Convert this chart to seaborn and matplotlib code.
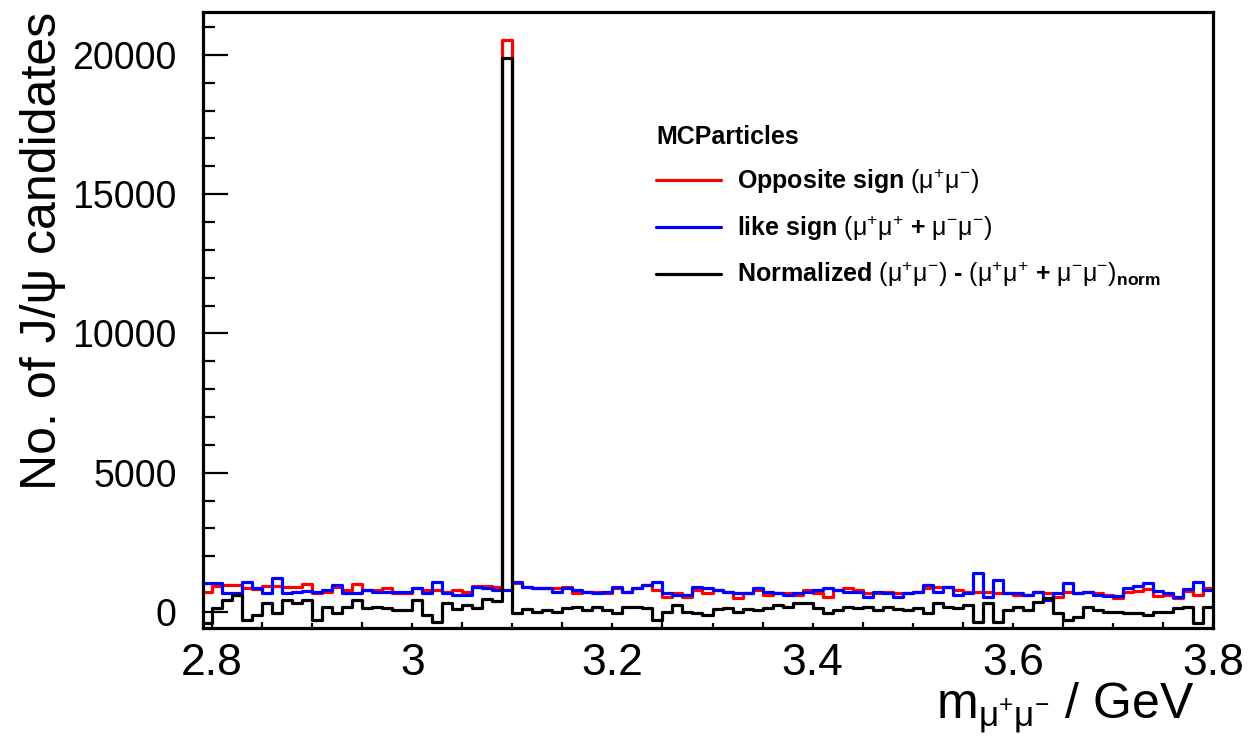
import numpy as np
import pandas as pd
import seaborn as sns
import matplotlib.pyplot as plt
from matplotlib.ticker import FixedLocator, MultipleLocator, FuncFormatter
from matplotlib.lines import Line2D

# histogram binning: 101 bins of 10 MeV starting at 2.79 GeV
bin_start = 2.79
bin_width = 0.01
n_bins = 101

# bin contents
opposite_sign = [730, 950, 960, 960, 850, 820, 950, 950, 880, 900, 1000, 680, 700, 900, 790, 1000, 790, 790, 850,
                 670, 670, 850, 790, 790, 730, 790, 700, 950, 940, 880, 20550, 1030, 910, 850, 850, 850, 910, 670, 730, 730,
                 670, 850, 730, 850, 970, 790, 550, 670, 550, 790, 670, 790, 730, 490, 670, 790, 610, 670, 670, 610,
                 790, 670, 550, 790, 850, 790, 670, 670, 730, 670, 670, 730, 850, 910, 910, 790, 730, 730, 730, 670,
                 670, 610, 610, 730, 670, 550, 730, 670, 730, 670, 610, 520, 700, 760, 820, 580, 610, 490, 760, 610, 850]
like_sign = [1040, 1040, 680, 680, 1080, 850, 680, 1220, 680, 700, 750, 700, 780, 960, 680, 680, 790, 730, 730,
             720, 720, 850, 670, 1090, 670, 600, 600, 910, 850, 790, 800, 1090, 910, 850, 850, 730, 850, 790, 730, 670,
             730, 910, 730, 850, 970, 1090, 670, 610, 610, 910, 850, 790, 730, 670, 670, 850, 730, 670, 610, 670,
             730, 790, 850, 790, 730, 730, 550, 730, 670, 550, 670, 730, 970, 730, 910, 610, 670, 1390, 550, 1150,
             670, 670, 610, 730, 430, 670, 1030, 670, 730, 610, 580, 580, 850, 940, 1030, 760, 670, 550, 820, 1060, 790]
normalized = [-380, 130, 430, 600, -290, -100, 310, -50, 430, 310, 430, -290, 190, -50, 190, 430, 130, 190, 130,
              70, 70, 430, -100, -350, 310, 100, 250, 150, 450, 400, 19900, -50, 100, 10, 70, 10, 130, 190, 70, 190,
              70, -50, 190, 190, 130, -290, 10, 250, 10, -50, -110, 100, 130, 10, 100, 70, 130, 250, 190, 310,
              310, 130, -50, 70, 190, 130, 190, 70, 190, 100, 70, 130, -50, 310, 190, 130, 250, -350, 310, -350,
              70, 190, 70, 370, 490, -50, -290, -170, 190, 70, 10, 10, -50, -50, -110, 10, 10, 130, 190, -410, 190]

series_names = ['Opposite sign', 'like sign', 'Normalized']
series_colors = ['#ff0000', '#0000ff', '#000000']
legend_labels = [
    r'Opposite sign $\mathrm{(\mu^{+}\mu^{-})}$',
    r'like sign $\mathrm{(\mu^{+}\mu^{+}}$ + $\mathrm{\mu^{-}\mu^{-})}$',
    r'Normalized $\mathrm{(\mu^{+}\mu^{-})}$ - $\mathrm{(\mu^{+}\mu^{+}}$ + $\mathrm{\mu^{-}\mu^{-})}_{\mathbf{norm}}$',
]

edges = [round(bin_start + bin_width * i, 3) for i in range(n_bins + 1)]
centers = [e + bin_width / 2 for e in edges[:-1]]

df = pd.concat([
    pd.DataFrame({'mass': centers, 'count': vals, 'sample': name})
    for name, vals in zip(series_names, [opposite_sign, like_sign, normalized])
])

sns.set_style('ticks')
plt.rcParams['font.family'] = ['Liberation Sans', 'DejaVu Sans']
plt.rcParams['mathtext.fontset'] = 'custom'
plt.rcParams['mathtext.rm'] = 'Liberation Sans'
plt.rcParams['mathtext.it'] = 'Liberation Sans'
plt.rcParams['mathtext.bf'] = 'Liberation Sans:bold'
for key in ['text.color', 'axes.labelcolor', 'xtick.color', 'ytick.color', 'axes.edgecolor']:
    plt.rcParams[key] = 'black'

fig = plt.figure(figsize=(12.51, 7.44), dpi=100)
ax = fig.add_axes([0.1623, 0.1559, 0.8073, 0.828])

# seaborn draws later hue levels first, so black ends up on top
sns.histplot(data=df, x='mass', weights='count', hue='sample', bins=edges,
             hue_order=series_names[::-1], palette=dict(zip(series_names, series_colors)),
             element='step', fill=False, linewidth=2.3, legend=False, ax=ax)

ax.set_xlim(2.791, 3.8)
ax.set_ylim(-575, 21540)

# x ticks: long every 0.2, medium every 0.1, short every 0.05
xmaj = np.round(np.arange(2.8, 3.81, 0.1), 2)
ax.xaxis.set_major_locator(FixedLocator(xmaj))
ax.xaxis.set_minor_locator(MultipleLocator(0.05))
ax.xaxis.set_major_formatter(FuncFormatter(lambda v, p: f'{v:g}' if round(v * 10) % 2 == 0 else ''))
for t, loc in zip(ax.xaxis.get_major_ticks(len(xmaj)), xmaj):
    t.tick1line.set_markersize(13.5 if round(loc * 10) % 2 == 0 else 7)

ax.yaxis.set_major_locator(MultipleLocator(5000))
ax.yaxis.set_minor_locator(MultipleLocator(1000))

ax.tick_params(axis='both', which='both', direction='in', top=False, right=False, width=1.6, colors='black')
ax.tick_params(axis='x', which='minor', length=4)
ax.tick_params(axis='x', which='major', labelsize=32, pad=11)
ax.tick_params(axis='y', which='major', length=18, labelsize=27, pad=19)
ax.tick_params(axis='y', which='minor', length=8.5)

for s in ax.spines.values():
    s.set_visible(True)
    s.set_linewidth(2.3)
    s.set_color('black')

ax.set_xlabel(r'm$_{\mathrm{\mu^{+}\mu^{-}}}$ / GeV', fontsize=36, loc='right')
ax.xaxis.set_label_coords(0.982, -0.085)
ax.set_ylabel('No. of J/ψ candidates', fontsize=36, loc='top')
ax.yaxis.set_label_coords(-0.136, 1.0)

handles = [Line2D([], [], color=c, linewidth=2.3) for c in series_colors]
leg = ax.legend(handles, legend_labels, title='MCParticles', loc='upper left',
                bbox_to_anchor=(656 / 1251, 1 - 125 / 744), bbox_transform=fig.transFigure,
                frameon=False, prop={'weight': 'bold', 'size': 18},
                title_fontproperties={'weight': 'bold', 'size': 18}, alignment='left',
                handlelength=2.6, handletextpad=0.65, labelspacing=0.7,
                borderpad=0, borderaxespad=0)

fig.savefig('out.png', dpi=100)
